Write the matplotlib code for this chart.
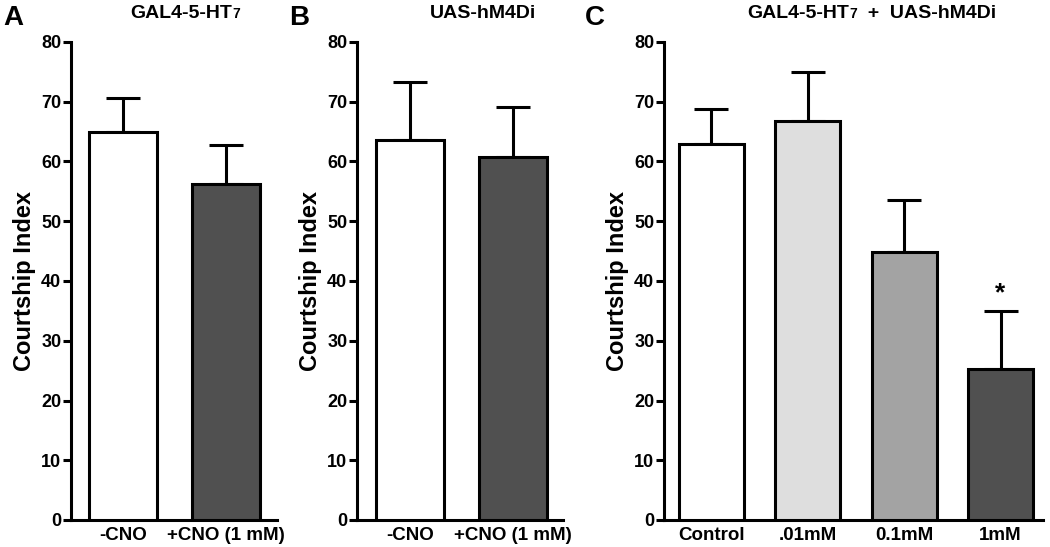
import matplotlib
matplotlib.use("Agg")
import matplotlib.pyplot as plt
import numpy as np

plt.rcParams['font.family'] = ['Liberation Sans', 'DejaVu Sans']
plt.rcParams['font.weight'] = 'bold'

# Data
a_labels = ["-CNO", "+CNO (1 mM)"]
a_means = [65.0, 56.3]
a_sem = [5.6, 6.5]
a_colors = ["#ffffff", "#505050"]

b_labels = ["-CNO", "+CNO (1 mM)"]
b_means = [63.6, 60.8]
b_sem = [9.7, 8.4]
b_colors = ["#ffffff", "#505050"]

c_labels = ["Control", ".01mM", "0.1mM", "1mM"]
c_means = [63.0, 66.8, 44.8, 25.3]
c_sem = [5.8, 8.2, 8.8, 9.6]
c_colors = ["#ffffff", "#dedede", "#a3a3a3", "#505050"]
c_star = "*"

yticks = [0, 10, 20, 30, 40, 50, 60, 70, 80]

W, H = 1050, 547
fig = plt.figure(figsize=(W / 100, H / 100), dpi=100)

LW = 2.2

def make_panel(rect, labels, means, sem, colors, width, xlim):
    ax = fig.add_axes(rect)
    x = np.arange(len(means))
    ax.bar(x, means, width=width, color=colors, edgecolor='black', linewidth=LW, zorder=3)
    ax.errorbar(x, means, yerr=[np.zeros(len(sem)), sem], fmt='none', ecolor='black',
                elinewidth=LW, capsize=12, capthick=LW, zorder=2)
    ax.set_xlim(*xlim)
    ax.set_ylim(0, 80)
    ax.set_yticks(yticks)
    ax.set_xticks(x)
    ax.set_xticklabels(labels, fontsize=13.5, fontweight='bold')
    for lab in ax.get_yticklabels():
        lab.set_fontsize(13)
        lab.set_fontweight('bold')
    ax.tick_params(axis='y', direction='out', length=6, width=LW, pad=1)
    ax.tick_params(axis='x', length=0, pad=5)
    for s in ['top', 'right']:
        ax.spines[s].set_visible(False)
    for s in ['left', 'bottom']:
        ax.spines[s].set_linewidth(LW)
    ax.set_ylabel("Courtship Index", fontsize=17, fontweight='bold', labelpad=4)
    return ax

bottom = 1 - 520 / H
top = 1 - 42 / H
hgt = top - bottom

axA = make_panel([71 / W, bottom, (277 - 71) / W, hgt], a_labels, a_means, a_sem, a_colors, 0.66, (-0.5, 1.49))
axB = make_panel([357 / W, bottom, (563 - 357) / W, hgt], b_labels, b_means, b_sem, b_colors, 0.66, (-0.515, 1.485))
axC = make_panel([664 / W, bottom, (1043 - 664) / W, hgt], c_labels, c_means, c_sem, c_colors, 0.675, (-0.49, 3.44))

axC.text(3, c_means[3] + c_sem[3] + 1.0, c_star, ha='center', va='bottom', fontsize=19, fontweight='bold')

# Panel letters
for lx, letter in [(3, "A"), (289, "B"), (585, "C")]:
    fig.text(lx / W, 1 - 25 / H, letter, fontsize=20, fontweight='bold', ha='left', va='baseline')

# Titles with small "7"
fig.canvas.draw()
renderer = fig.canvas.get_renderer()

def title(center_px, pieces):
    ybase = 1 - 18 / H
    objs = []
    widths = []
    for txt, size in pieces:
        t = fig.text(0, ybase, txt, fontsize=size, fontweight='bold', ha='left', va='baseline')
        bb = t.get_window_extent(renderer)
        objs.append(t)
        widths.append(bb.width)
    total = sum(widths)
    x = center_px - total / 2
    for t, w in zip(objs, widths):
        t.set_x(x / W)
        x += w

title(185, [("GAL4-5-HT", 14), ("7", 10)])
title(483, [("UAS-hM4Di", 14)])
title(872, [("GAL4-5-HT", 14), ("7", 10), ("  +  UAS-hM4Di", 14)])

fig.savefig("out.png", dpi=100)
